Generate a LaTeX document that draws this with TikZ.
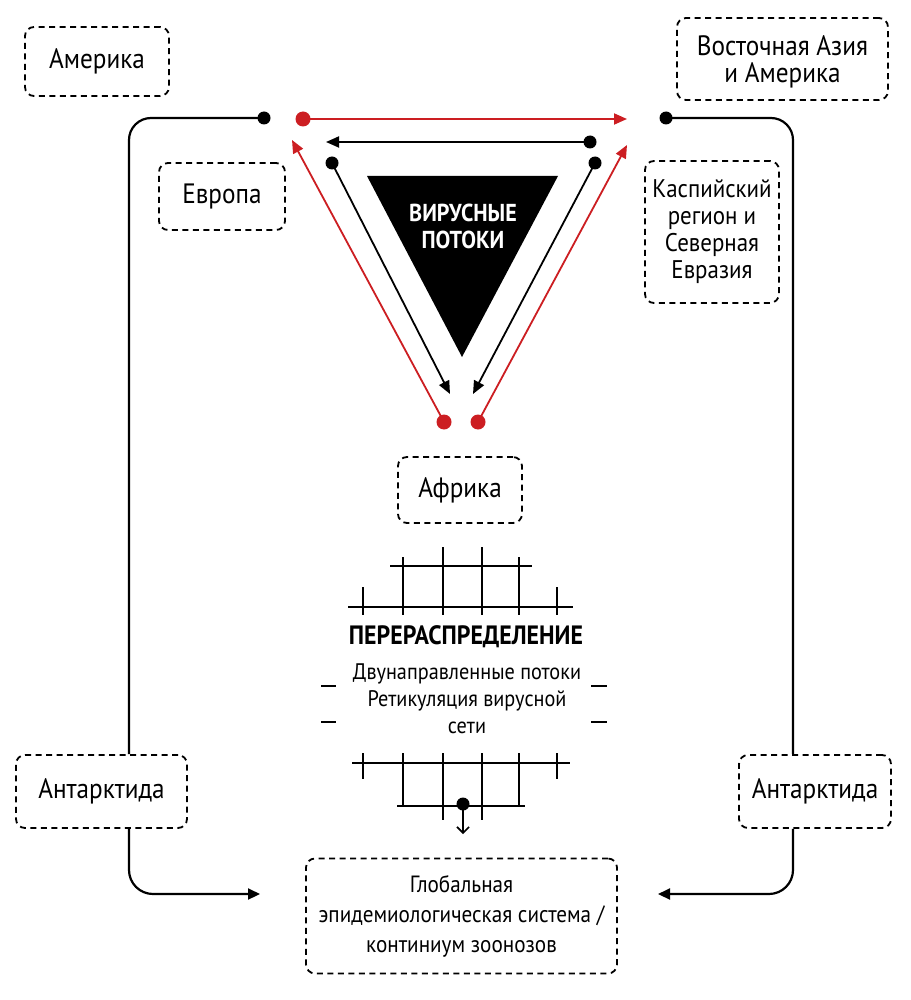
\documentclass[tikz,border=0pt]{standalone}
\usepackage{fontspec}
\setmainfont{PT Sans}[FakeStretch=0.9]
\usetikzlibrary{arrows.meta}
\definecolor{redc}{RGB}{204,30,34}
\begin{document}
\begin{tikzpicture}[x=1pt,y=-1pt,
  box/.style={draw, dash pattern=on 6pt off 4.5pt, line width=1.8pt, rounded corners=9pt,
    inner sep=0pt, align=center, font=\fontsize{28}{27}\selectfont},
  conn/.style={line width=2.2pt},
  flow/.style={line width=1.8pt, -{Triangle[length=13pt,width=11pt]}},
  rflow/.style={flow, redc},
  bdot/.style={circle, fill=black, inner sep=0pt, minimum size=13pt},
  rdot/.style={circle, fill=redc, inner sep=0pt, minimum size=15pt},
  grid/.style={line width=2.3pt},
  lbl/.style={align=center, inner sep=0pt}
]
\useasboundingbox (0,0) rectangle (910,1000);
\fill[white] (0,0) rectangle (910,1000);

% boxes
\node[box, minimum width=144pt, minimum height=69pt] (amer) at (97,61.5) {Америка};
\node[box, minimum width=211pt, minimum height=82pt] (easia) at (782.5,59) {};
\node[lbl, font=\fontsize{28}{27}\selectfont] (easiaTxt) at ([yshift=-3pt]easia.center) {Восточная Азия\\и Америка};
\node[box, minimum width=126pt, minimum height=67pt] (eur) at (222,196.5) {Европа};
\node[box, minimum width=134pt, minimum height=142pt, font=\fontsize{25.5}{27}\selectfont] (casp) at (712,232) {Каспийский\\регион и\\Северная\\Евразия};
\node[box, minimum width=124pt, minimum height=66pt] (afr) at (460,490) {Африка};
\node[box, minimum width=171pt, minimum height=73pt] (antL) at (101.5,791.5) {Антарктида};
\node[box, minimum width=152pt, minimum height=73pt] (antR) at (815,791.5) {Антарктида};
\node[box, minimum width=311pt, minimum height=115pt, font=\fontsize{23.5}{30}\selectfont] (glob) at (461.5,916)
  {Глобальная\\эпидемиологическая система /\\континиум зоонозов};

% triangle
\fill (367,176) -- (558,176) -- (462,357) -- cycle;
\node[lbl, text=white, font=\bfseries\fontsize{24.5}{27}\selectfont] (vir) at (463,226.5) {ВИРУСНЫЕ\\ПОТОКИ};

% dots
\node[bdot] (dL) at (264,118) {};
\node[bdot] (dR) at (666,118) {};
\node[rdot] (rTop) at (303,119) {};
\coordinate (rTopEnd) at (627,119);
\node[bdot] (bTop) at (590,142) {};
\coordinate (bTopEnd) at (326,142);
\node[rdot] (rBL) at (444,422) {};
\coordinate (rBLEnd) at (292,140);
\node[rdot] (rBR) at (478,422) {};
\coordinate (rBREnd) at (627,145);
\node[bdot] (bL) at (332,163) {};
\coordinate (bLEnd) at (450,394);
\node[bdot] (bR) at (595,163) {};
\coordinate (bREnd) at (473,394);

\draw[rflow] (rTop.center) -- (rTopEnd);
\draw[flow] (bTop.center) -- (bTopEnd);
\draw[rflow] (rBL.center) -- (rBLEnd);
\draw[rflow] (rBR.center) -- (rBREnd);
\draw[flow] (bL.center) -- (bLEnd);
\draw[flow] (bR.center) -- (bREnd);

% side connectors
\coordinate (lx) at (129,0);
\coordinate (rx) at (793,0);
\coordinate (gL) at (260,894);
\coordinate (gR) at (658,894);
\draw[conn, rounded corners=22pt] (dL.center) -| (lx |- antL.north);
\draw[conn, rounded corners=22pt] (dR.center) -| (rx |- antR.north);
\draw[conn, rounded corners=24pt, -{Triangle[length=12pt,width=11pt]}] (lx |- antL.south) |- (gL);
\draw[conn, rounded corners=24pt, -{Triangle[length=12pt,width=11pt]}] (rx |- antR.south) |- (gR);

% redistribution upper grid
\draw[grid] (390,566) -- (532,566);
\draw[grid] (348,607) -- (573,607);
\draw[grid] (403,557) -- (403,615);
\draw[grid] (443,547) -- (443,615);
\draw[grid] (482,547) -- (482,615);
\draw[grid] (519,557) -- (519,615);
\draw[grid] (363,587) -- (363,615);
\draw[grid] (557,587) -- (557,615);

\node[lbl, font=\bfseries\fontsize{26.5}{28}\selectfont] (redis) at (466,637) {ПЕРЕРАСПРЕДЕЛЕНИЕ};
\node[lbl, font=\fontsize{22.5}{27}\selectfont] (sub) at (467,699) {Двунаправленные потоки\\Ретикуляция вирусной\\сети};
\draw[grid, line width=1.8pt] (321,686) -- (336,686);
\draw[grid, line width=1.8pt] (321,722) -- (336,722);
\draw[grid, line width=1.8pt] (591,686) -- (607,686);
\draw[grid, line width=1.8pt] (591,722) -- (607,722);

% lower grid
\draw[grid] (352,763) -- (570,763);
\draw[grid] (397,806) -- (525,806);
\draw[grid] (363,753) -- (363,779);
\draw[grid] (403,753) -- (403,807);
\draw[grid] (443,753) -- (443,820);
\draw[grid] (482,753) -- (482,820);
\draw[grid] (519,753) -- (519,807);
\draw[grid] (557,753) -- (557,779);
\node[bdot, minimum size=13pt] (gdot) at (463,804) {};
\coordinate (gdotEnd) at (463,834);
\draw[line width=1.6pt, -{Straight Barb[length=6pt,width=12pt]}] (gdot.center) -- (gdotEnd);
\end{tikzpicture}
\end{document}
